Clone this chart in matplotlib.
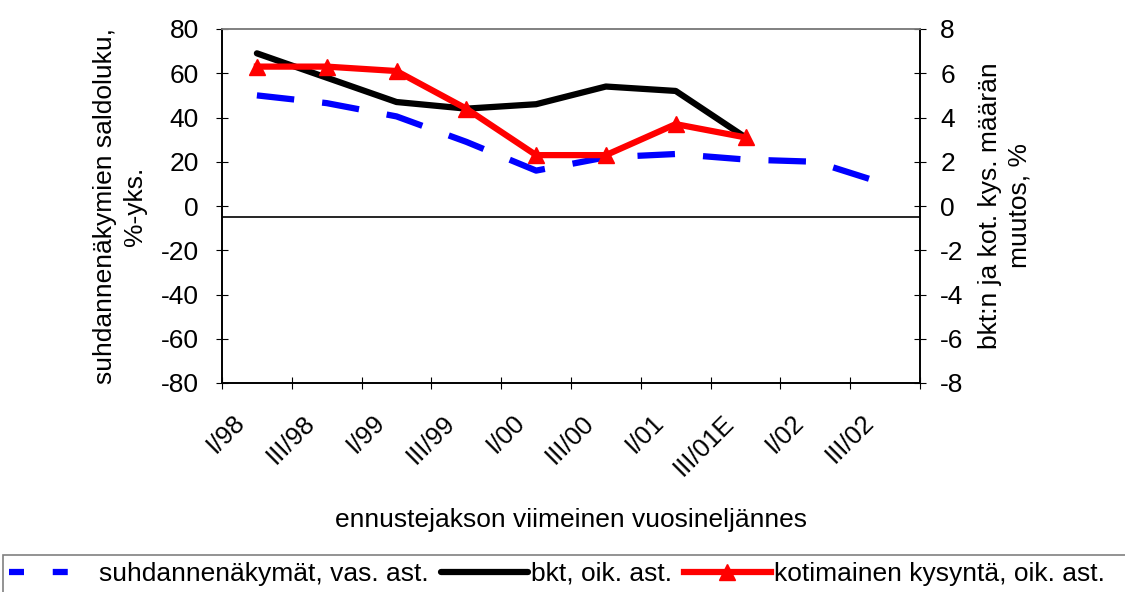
import matplotlib.pyplot as plt
from matplotlib.lines import Line2D
from matplotlib.patches import Rectangle

plt.rcParams['font.family'] = ['Liberation Sans', 'DejaVu Sans']
plt.rcParams['font.size'] = 19
plt.rcParams['axes.unicode_minus'] = False

# categories (forecast period, last quarter)
quarters = ['I/98', 'III/98', 'I/99', 'III/99', 'I/00', 'III/00',
            'I/01', 'III/01E', 'I/02', 'III/02']

# left axis: suhdannenäkymät (balance figure)
outlook = [50, 46.5, 40.5, 29, 16, 22, 23.5, 21, 20, 10]
# right axis: bkt and kotimainen kysyntä
gdp = [6.9, 5.8, 4.7, 4.4, 4.6, 5.4, 5.2, 3.1]
demand = [6.3, 6.3, 6.1, 4.4, 2.3, 2.3, 3.7, 3.1]

fig = plt.figure(figsize=(11.25, 5.92), dpi=100)
ax = fig.add_axes([222/1125, 1-383/592, (920-222)/1125, (383-29)/592])
ax2 = ax.twinx()

x = list(range(len(quarters)))
l1, = ax.plot(x[:len(outlook)], outlook, color='#0000ff', lw=4.5,
              dashes=(6, 4.5), dash_capstyle='butt')
l2, = ax2.plot(x[:len(gdp)], gdp, color='black', lw=4.5, solid_capstyle='round')
l3, = ax2.plot(x[:len(demand)], demand, color='#ff0000', lw=4.5,
               marker='^', markersize=12)

ax.set_xlim(-0.5, len(quarters) - 0.5)
ax.set_ylim(-80, 80)
ax2.set_ylim(-8, 8)
ax.set_yticks(range(-80, 81, 20))
ax2.set_yticks(range(-8, 9, 2))

ax.axhline(-5, color='black', lw=1.2)

# category labels, rotated like the original
ax.set_xticks([i - 0.22 for i in x])
ax.set_xticklabels(quarters, rotation=45, ha='right', va='center',
                   rotation_mode='anchor', fontsize=18.5)
ax.tick_params(axis='x', which='major', length=0, pad=26)
ax.set_xticks([i - 0.5 for i in range(len(quarters) + 1)], minor=True)
ax.tick_params(axis='x', which='minor', direction='inout', length=8, width=0.8)
ax.tick_params(axis='y', direction='inout', length=9, width=0.8, pad=12,
               labelsize=19)
ax2.tick_params(axis='y', direction='inout', length=9, width=0.8, pad=10,
                labelsize=19)

for a in (ax, ax2):
    a.spines['top'].set_color('#808080')
    a.spines['top'].set_linewidth(1.2)
    for s in ('left', 'right', 'bottom'):
        a.spines[s].set_linewidth(1.2)

ax.set_ylabel('suhdannenäkymien saldoluku,\n%-yks.', linespacing=1.3,
              labelpad=10)
ax2.set_ylabel('bkt:n ja kot. kys. määrän\nmuutos, %', linespacing=1.3,
               labelpad=10)
ax.set_xlabel('ennustejakson viimeinen vuosineljännes', labelpad=20)
ax2.set_zorder(ax.get_zorder() + 1)
ax2.patch.set_visible(False)

# legend proxy for the dashed series (shorter dashes as in the original key)
key1 = Line2D([], [], color='#0000ff', lw=4.5, dashes=(2.4, 4.6),
              dash_capstyle='butt')
fig.legend([key1, l2, l3],
           ['suhdannenäkymät, vas. ast.', 'bkt, oik. ast.',
            'kotimainen kysyntä, oik. ast.'],
           loc='center left', bbox_to_anchor=(0.008, 1 - 574/592), ncol=3,
           frameon=False, handlelength=3.3, handletextpad=0.12,
           columnspacing=0.45, borderaxespad=0, borderpad=0)
fig.patches.append(Rectangle((3/1125, -0.01), 1.1, 1 - 555/592 + 0.01,
                             transform=fig.transFigure, fill=False,
                             edgecolor='#808080', lw=1.2))

fig.savefig('out.png', dpi=100)
